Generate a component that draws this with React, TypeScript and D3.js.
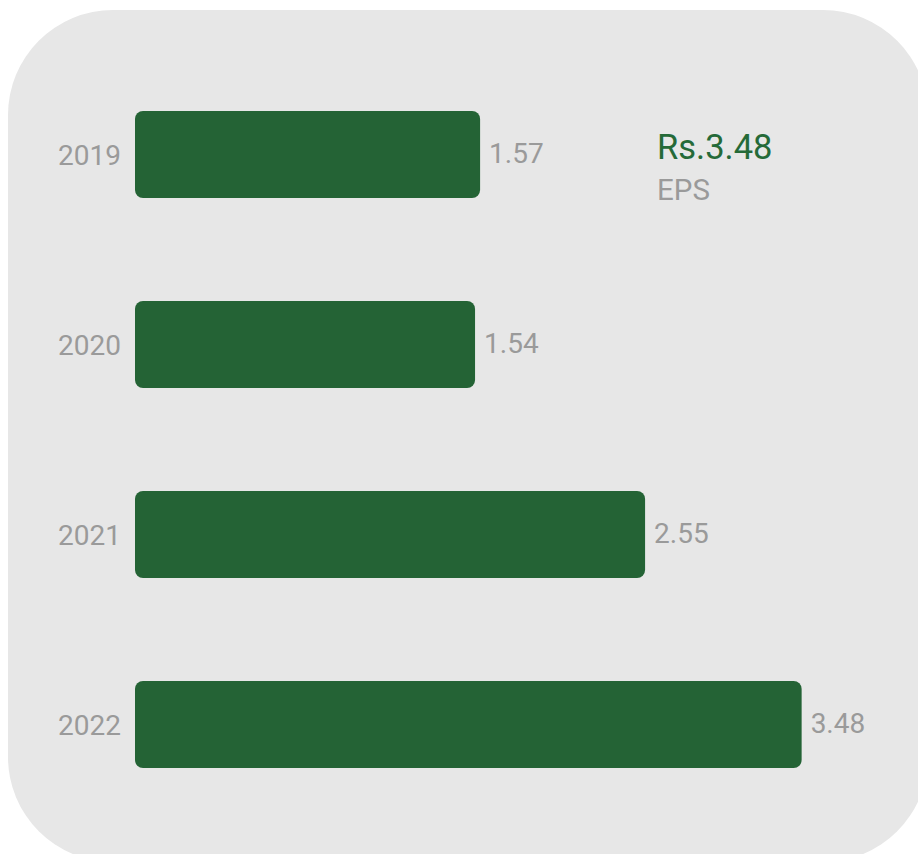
import React from "react";
import * as d3 from "d3";

const years: string[] = ["2019", "2020", "2021", "2022"];
const eps: number[] = [1.57, 1.54, 2.55, 3.48];
const headlineValue = "Rs.3.48";
const headlineLabel = "EPS";

const W = 918;
const H = 854;
const BAR = "#246335";
const GRAY = "#9a9a9a";
const FONT = "Roboto, 'Liberation Sans', sans-serif";

export default function App() {
  const x = d3.scaleLinear().domain([-0.48, 3.5]).range([135, 805]);
  const y = d3
    .scaleBand<string>()
    .domain(years)
    .range([111, 768])
    .paddingInner(103 / 190)
    .paddingOuter(0);

  const x0 = x.range()[0];

  return (
    <svg
      width={W}
      height={H}
      style={{ position: "absolute", left: 0, top: 0, display: "block" }}
    >
      <rect x={8} y={10} width={920} height={852} rx={105} ry={105} fill="#e7e7e7" />
      {years.map((yr, i) => {
        const by = y(yr) as number;
        const bw = y.bandwidth();
        const xe = x(eps[i]);
        return (
          <g key={yr}>
            <rect x={x0} y={by} width={xe - x0} height={bw} rx={8} ry={8} fill={BAR} />
            <text
              x={x0 - 14}
              y={by + bw / 2 + 1}
              textAnchor="end"
              dominantBaseline="central"
              fontFamily={FONT}
              fontSize={28}
              fill={GRAY}
            >
              {yr}
            </text>
            <text
              x={xe + 9}
              y={by + bw / 2 - 1}
              textAnchor="start"
              dominantBaseline="central"
              fontFamily={FONT}
              fontSize={28}
              fill={GRAY}
            >
              {eps[i].toFixed(2)}
            </text>
          </g>
        );
      })}
      <text x={657} y={159} fontFamily={FONT} fontSize={34.5} fill="#256a38">
        {headlineValue}
      </text>
      <text x={657} y={200} fontFamily={FONT} fontSize={29.5} fill={GRAY}>
        {headlineLabel}
      </text>
    </svg>
  );
}
